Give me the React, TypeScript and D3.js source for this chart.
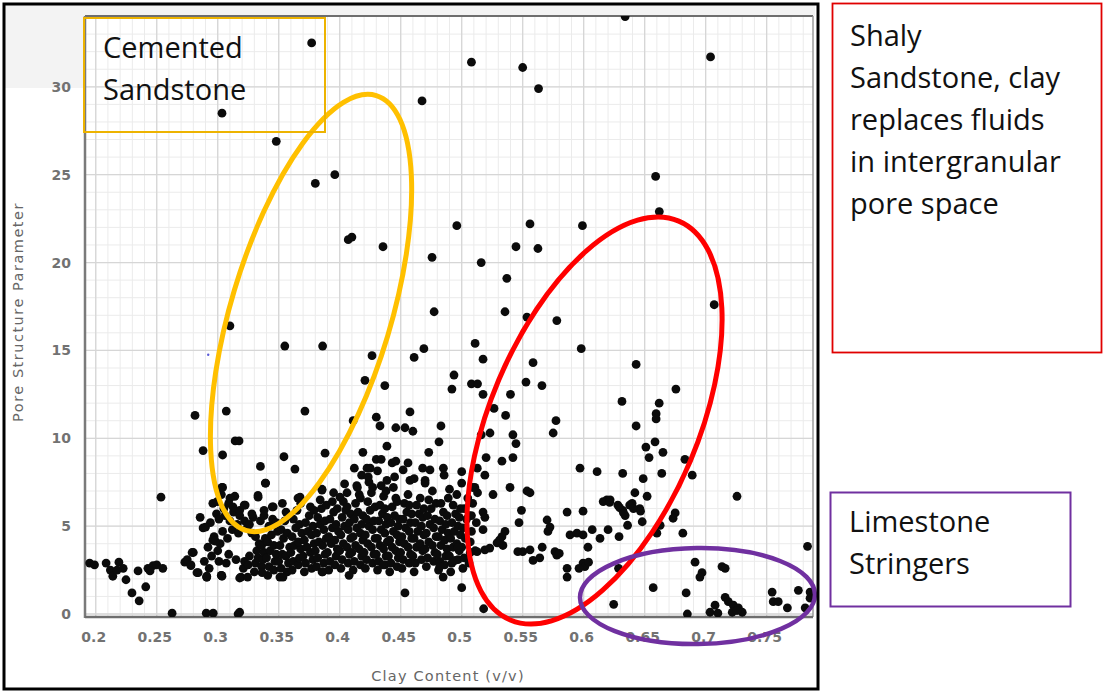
import React from "react";
import * as d3 from "d3";

// Tick values and labels
const xTicks = [0.2, 0.25, 0.3, 0.35, 0.4, 0.45, 0.5, 0.55, 0.6, 0.65, 0.7, 0.75];
const xTickLabels = ["0.2", "0.25", "0.3", "0.35", "0.4", "0.45", "0.5", "0.55", "0.6", "0.65", "0.7", "0.75"];
const yTicks = [0, 5, 10, 15, 20, 25, 30];
const yTickLabels = ["0", "5", "10", "15", "20", "25", "30"];

// [clay content (v/v), pore structure parameter]
const sparseUpper: [number, number][] = [
  [0.377, 32.5], [0.3035, 28.5], [0.348, 26.9], [0.38, 24.5], [0.396, 25.0], [0.407, 21.3], [0.41, 21.45], [0.4355, 20.9],
  [0.508, 31.4], [0.55, 31.1], [0.563, 29.9], [0.4675, 29.2], [0.634, 34.0], [0.704, 31.7], [0.659, 24.9], [0.662, 22.9],
  [0.496, 22.1], [0.556, 22.2], [0.599, 22.1], [0.5445, 20.9], [0.5625, 20.8],
  [0.4757, 20.3], [0.516, 20.0], [0.537, 19.1], [0.4774, 17.2], [0.5355, 17.2], [0.5535, 16.9], [0.578, 16.7],
  [0.598, 15.1], [0.707, 17.6], [0.469, 15.1], [0.461, 14.6], [0.511, 15.4], [0.5175, 14.5], [0.5585, 14.3],
  [0.643, 14.2], [0.4937, 13.6], [0.492, 12.8], [0.508, 13.1], [0.513, 13.1], [0.5527, 13.2], [0.5658, 13.0],
  [0.6756, 12.8], [0.5175, 12.5], [0.54, 12.5], [0.6314, 12.1], [0.6619, 12.0], [0.6594, 11.4], [0.6594, 11.1],
  [0.5265, 11.7], [0.536, 11.3], [0.5773, 11.0], [0.575, 10.3], [0.643, 10.7], [0.4576, 11.5], [0.4535, 10.6],
  [0.46, 10.4], [0.483, 10.7], [0.4814, 9.8], [0.473, 9.2], [0.516, 10.2], [0.5232, 10.3], [0.542, 10.2],
  [0.5445, 9.7], [0.651, 9.5], [0.6585, 9.8], [0.665, 9.2], [0.6536, 8.9], [0.683, 8.8], [0.52, 8.9], [0.542, 8.9],
  [0.533, 8.7],
  [0.31, 16.4], [0.355, 15.25], [0.386, 15.25], [0.4265, 14.7], [0.4207, 13.3], [0.437, 13.0], [0.2814, 11.3],
  [0.307, 11.55], [0.3715, 11.55], [0.411, 11.0], [0.43, 11.2], [0.433, 10.7], [0.446, 10.6], [0.3143, 9.85],
  [0.3175, 9.85], [0.288, 9.3], [0.304, 9.05], [0.3543, 8.95], [0.388, 9.15], [0.419, 9.2], [0.4387, 9.55],
  [0.434, 8.8], [0.446, 8.7],
];

const midScatter: [number, number][] = [
  [0.335, 8.4], [0.3633, 8.25], [0.339, 7.45], [0.4224, 8.3], [0.431, 8.15], [0.304, 7.2], [0.2535, 6.65],
  [0.3331, 6.65], [0.3675, 6.65], [0.3855, 7.1], [0.4003, 6.65],
  [0.597, 8.3], [0.611, 8.1], [0.632, 8.0], [0.6488, 7.7], [0.664, 8.0], [0.689, 7.9], [0.5396, 7.2],
  [0.5535, 7.0], [0.556, 6.9], [0.519, 7.9], [0.5, 8.1], [0.485, 8.3], [0.468, 8.3], [0.456, 8.6], [0.4576, 7.6],
  [0.47, 7.6], [0.49, 7.1], [0.7257, 6.7], [0.642, 6.9], [0.652, 6.7], [0.619, 6.5],
  [0.5128, 8.3], [0.5108, 7.2], [0.5257, 6.8], [0.4856, 7.9], [0.5, 7.45], [0.509, 7.2], [0.47, 7.45],
  [0.4145, 7.2], [0.4387, 7.6], [0.4234, 7.8], [0.412, 8.3], [0.425, 8.3], [0.443, 8.6], [0.452, 8.2],
  [0.461, 7.7], [0.474, 8.2], [0.43, 8.8],
];

const mainCluster: [number, number][] = [
  [0.291, 2.1], [0.293, 2.6], [0.289, 3.0], [0.295, 3.3], [0.292, 3.8], [0.297, 4.4], [0.294, 5.2], [0.299, 5.7],
  [0.296, 6.3], [0.301, 3.0], [0.303, 2.2], [0.3, 3.6], [0.302, 4.0], [0.304, 4.7], [0.301, 5.4], [0.305, 6.0], [0.303, 6.8],
  [0.307, 2.9], [0.309, 3.4], [0.308, 4.3], [0.312, 4.8], [0.31, 5.3], [0.313, 5.8], [0.309, 6.3], [0.314, 6.7],
  [0.315, 3.1], [0.317, 4.6], [0.316, 5.1], [0.318, 5.6], [0.306, 5.6], [0.318, 5.9],
  [0.319, 2.1], [0.321, 2.6], [0.322, 3.0], [0.324, 4.9], [0.322, 5.3], [0.325, 2.8], [0.326, 3.3],
  [0.328, 4.6], [0.326, 5.1], [0.329, 5.5], [0.328, 5.7],
  [0.33, 2.4], [0.331, 2.9], [0.333, 3.2], [0.332, 3.6], [0.334, 4.0], [0.331, 4.4], [0.335, 5.3], [0.336, 2.7],
  [0.337, 3.1], [0.338, 3.5], [0.336, 3.9], [0.339, 4.3], [0.338, 5.6], [0.338, 5.9],
  [0.341, 2.2], [0.342, 2.7], [0.34, 3.2], [0.343, 3.6], [0.341, 4.1], [0.344, 4.5], [0.342, 5.0], [0.345, 5.4],
  [0.346, 2.5], [0.347, 3.0], [0.348, 3.4], [0.346, 3.9], [0.349, 4.7], [0.348, 5.2],
  [0.351, 2.1], [0.352, 2.6], [0.35, 3.0], [0.353, 3.4], [0.351, 3.9], [0.354, 4.3], [0.352, 4.8], [0.355, 5.3],
  [0.356, 5.8], [0.357, 2.4], [0.358, 2.9], [0.356, 3.3], [0.359, 3.8], [0.357, 4.6], [0.353, 6.3],
  [0.361, 2.5], [0.362, 3.0], [0.36, 3.5], [0.363, 3.9], [0.361, 4.4], [0.364, 4.9], [0.362, 5.4], [0.365, 5.9],
  [0.366, 2.8], [0.367, 3.2], [0.368, 3.7], [0.366, 4.1], [0.369, 4.6], [0.367, 5.1], [0.368, 6.3],
  [0.371, 2.4], [0.372, 2.9], [0.37, 3.3], [0.373, 3.8], [0.371, 4.2], [0.374, 4.7], [0.372, 5.2], [0.375, 5.6],
  [0.376, 6.1], [0.377, 2.6], [0.378, 3.1], [0.376, 3.5], [0.379, 4.0], [0.377, 4.5], [0.378, 5.0], [0.379, 5.9],
  [0.381, 2.7], [0.382, 3.2], [0.38, 3.6], [0.383, 4.1], [0.381, 4.6], [0.384, 5.1], [0.382, 5.5], [0.385, 6.0],
  [0.384, 6.5], [0.386, 2.4], [0.387, 2.9], [0.388, 3.4], [0.386, 3.9], [0.389, 4.3], [0.387, 4.8], [0.388, 5.3], [0.389, 6.2],
  [0.391, 2.5], [0.392, 3.0], [0.39, 3.5], [0.393, 4.0], [0.391, 4.4], [0.394, 4.9], [0.392, 5.4], [0.395, 5.8],
  [0.394, 6.4], [0.396, 2.8], [0.397, 3.3], [0.398, 3.7], [0.396, 4.2], [0.399, 4.7], [0.397, 5.1], [0.398, 6.0], [0.395, 6.9],
  [0.401, 2.6], [0.402, 3.1], [0.4, 3.6], [0.403, 4.0], [0.401, 4.5], [0.404, 5.0], [0.402, 5.5], [0.405, 5.9],
  [0.403, 6.4], [0.406, 6.9], [0.404, 7.4], [0.407, 2.9], [0.408, 3.4], [0.406, 3.8], [0.409, 4.3], [0.407, 4.8],
  [0.408, 5.2], [0.409, 5.7], [0.406, 6.1],
  [0.411, 2.5], [0.412, 3.0], [0.41, 3.5], [0.413, 3.9], [0.411, 4.4], [0.414, 4.9], [0.412, 5.4], [0.415, 5.8],
  [0.413, 6.3], [0.416, 6.8], [0.414, 7.3], [0.417, 2.8], [0.418, 3.3], [0.416, 3.7], [0.419, 4.2], [0.417, 4.6],
  [0.418, 5.1], [0.419, 5.6], [0.417, 6.6], [0.418, 7.9],
  [0.421, 2.6], [0.422, 3.1], [0.42, 3.5], [0.423, 4.0], [0.421, 4.5], [0.424, 5.0], [0.422, 5.4], [0.425, 5.9],
  [0.423, 6.4], [0.426, 6.9], [0.424, 7.5], [0.427, 2.9], [0.428, 3.4], [0.426, 3.8], [0.429, 4.3], [0.427, 4.8],
  [0.428, 5.3], [0.429, 6.1], [0.427, 7.2],
  [0.431, 2.5], [0.432, 3.0], [0.43, 3.4], [0.433, 3.9], [0.431, 4.3], [0.434, 4.8], [0.432, 5.3], [0.435, 5.7],
  [0.433, 6.2], [0.436, 6.7], [0.434, 7.3], [0.437, 2.8], [0.438, 3.3], [0.436, 3.7], [0.439, 4.1], [0.437, 4.6],
  [0.438, 5.1], [0.439, 5.5], [0.437, 6.0], [0.438, 7.0],
  [0.441, 2.4], [0.442, 2.9], [0.44, 3.3], [0.443, 3.8], [0.441, 4.2], [0.444, 4.7], [0.442, 5.2], [0.445, 5.6],
  [0.443, 6.1], [0.446, 6.6], [0.444, 7.2], [0.447, 2.7], [0.448, 3.2], [0.446, 3.6], [0.449, 4.1], [0.447, 4.5],
  [0.448, 5.0], [0.449, 5.4], [0.447, 6.4], [0.445, 7.8],
  [0.451, 2.6], [0.452, 3.1], [0.45, 3.5], [0.453, 4.0], [0.451, 4.4], [0.454, 4.9], [0.452, 5.4], [0.455, 5.8],
  [0.453, 6.3], [0.456, 6.8], [0.457, 2.9], [0.458, 3.4], [0.456, 3.8], [0.459, 4.3], [0.457, 4.7], [0.458, 5.2],
  [0.459, 5.7], [0.457, 6.2],
  [0.461, 2.4], [0.462, 2.9], [0.46, 3.3], [0.463, 3.8], [0.461, 4.3], [0.464, 4.7], [0.462, 5.2], [0.465, 5.7],
  [0.463, 6.2], [0.466, 6.6], [0.467, 3.1], [0.468, 3.6], [0.466, 4.0], [0.469, 4.5], [0.467, 5.0], [0.468, 5.5], [0.469, 6.0],
  [0.471, 2.7], [0.472, 3.2], [0.47, 3.7], [0.473, 4.1], [0.471, 4.6], [0.474, 5.1], [0.472, 5.6], [0.475, 6.0],
  [0.473, 6.5], [0.476, 7.0], [0.477, 3.0], [0.478, 3.5], [0.476, 3.9], [0.479, 4.4], [0.477, 4.9], [0.478, 5.4], [0.479, 6.3],
  [0.481, 2.5], [0.482, 3.0], [0.48, 3.4], [0.483, 3.9], [0.481, 4.4], [0.484, 4.8], [0.482, 5.3], [0.485, 5.8],
  [0.483, 6.3], [0.486, 2.8], [0.487, 3.3], [0.488, 3.7], [0.486, 4.2], [0.489, 4.6], [0.487, 5.1], [0.488, 5.6], [0.489, 6.6],
  [0.491, 2.4], [0.492, 2.9], [0.49, 3.3], [0.493, 3.8], [0.491, 4.3], [0.494, 4.7], [0.492, 5.2], [0.495, 5.7],
  [0.493, 6.2], [0.496, 6.8], [0.497, 3.1], [0.498, 3.6], [0.496, 4.0], [0.499, 4.5], [0.497, 5.0], [0.498, 5.5], [0.499, 6.0],
  [0.501, 2.6], [0.502, 3.2], [0.5, 3.8], [0.503, 4.3], [0.501, 4.9], [0.504, 5.4], [0.502, 6.0], [0.505, 6.6],
  [0.506, 2.9], [0.507, 4.1], [0.508, 4.7], [0.506, 5.6], [0.509, 6.3], [0.511, 3.6], [0.512, 5.2], [0.513, 6.9],
];

const rightScatter: [number, number][] = [
  [0.616, 6.4], [0.6217, 6.5], [0.628, 6.2], [0.632, 5.9], [0.634, 5.6], [0.6397, 6.3], [0.646, 6.0], [0.636, 5.05],
  [0.648, 5.25], [0.6213, 6.35], [0.6295, 6.05], [0.6327, 5.75], [0.6377, 6.2], [0.6408, 6.0], [0.6466, 5.85],
  [0.5864, 5.8], [0.5995, 5.85], [0.549, 5.9], [0.547, 5.2], [0.5175, 5.8], [0.519, 5.5], [0.5175, 4.8], [0.508, 5.6],
  [0.57, 5.35], [0.5724, 4.95], [0.5707, 4.7], [0.5888, 4.5], [0.5945, 4.6], [0.5995, 4.5], [0.607, 4.8], [0.62, 4.8],
  [0.6134, 4.3], [0.629, 4.4], [0.6035, 3.8], [0.5355, 4.7], [0.533, 4.4], [0.529, 4.05], [0.523, 3.75], [0.519, 3.65],
  [0.5126, 3.55], [0.507, 3.5], [0.546, 3.55], [0.55, 3.55], [0.556, 3.65], [0.5585, 3.05], [0.566, 3.8], [0.564, 3.2],
  [0.5765, 3.55], [0.578, 3.35], [0.58, 3.45], [0.5995, 2.9], [0.601, 2.7], [0.604, 2.95], [0.5864, 2.6], [0.5864, 2.1],
  [0.5962, 2.6], [0.518, 0.3], [0.6246, 0.55],
  [0.5338, 3.9], [0.531, 4.2], [0.497, 3.8], [0.4946, 3.05], [0.4848, 2.1], [0.482, 2.7], [0.4535, 1.2], [0.5, 1.5],
  [0.6286, 2.6], [0.675, 5.75], [0.6733, 5.45], [0.66, 4.6], [0.6813, 4.6], [0.6627, 5.05], [0.7835, 3.85],
];

const lowScatter: [number, number][] = [
  [0.195, 2.9], [0.199, 2.8], [0.2085, 2.9], [0.212, 2.5], [0.214, 2.15], [0.219, 2.95], [0.2225, 2.6], [0.2175, 2.5],
  [0.2248, 1.95], [0.2297, 1.2], [0.2356, 0.75], [0.2347, 2.45], [0.241, 1.55], [0.2428, 2.6], [0.247, 2.75],
  [0.25, 2.8], [0.255, 2.6], [0.2445, 2.45],
  [0.273, 2.95], [0.28, 3.5], [0.278, 2.75], [0.283, 2.35], [0.291, 2.1], [0.3035, 2.15], [0.318, 2.05], [0.3245, 2.1],
  [0.3364, 2.35], [0.3535, 2.1], [0.3855, 2.4], [0.4077, 2.2], [0.4355, 2.8], [0.2856, 5.5], [0.288, 4.9], [0.296, 4.2],
  [0.2995, 6.4], [0.3035, 7.2], [0.31, 6.6], [0.3125, 6.1], [0.3225, 6.2], [0.333, 6.75], [0.3393, 7.45], [0.3455, 6.1],
  [0.3658, 6.6], [0.3855, 7.05], [0.3447, 6.1], [0.3217, 6.2], [0.29, 4.95], [0.298, 4.15], [0.279, 3.5], [0.275, 3.1],
  [0.278, 2.8], [0.284, 2.35], [0.291, 2.15], [0.303, 2.2],
  [0.2626, 0.05], [0.2906, 0.05], [0.2963, 0.05], [0.3167, 0.0], [0.318, 0.1],
  [0.657, 1.5], [0.684, 1.2], [0.6913, 2.95], [0.697, 2.35], [0.6953, 2.1], [0.7134, 2.7], [0.716, 2.6], [0.685, 0.0],
  [0.7077, 0.5], [0.716, 0.95], [0.7186, 0.7], [0.7227, 0.5], [0.7268, 0.35], [0.73, 0.1], [0.7036, 0.1], [0.71, 0.05],
  [0.7218, 0.1], [0.7257, 0.2], [0.7545, 1.25], [0.7554, 0.7], [0.7595, 0.7], [0.767, 0.35], [0.776, 1.35],
  [0.7856, 0.9], [0.7816, 0.35], [0.7856, 1.25],
];

// Single highlighted sample
const markerPoint: [number, number] = [0.2922, 14.75];

// Region outlines: centre in data units, radii in px, tilt in degrees
const regions = [
  { name: "cemented", cx: 0.3765, cy: 17.13, rx: 80, ry: 227, tilt: 16.7, color: "#FFC000", width: 5 },
  { name: "shaly", cx: 0.6089, cy: 11.01, rx: 104, ry: 216.5, tilt: 22.9, color: "#FF0000", width: 5 },
  { name: "limestone", cx: 0.6933, cy: 1.02, rx: 117.5, ry: 48, tilt: -0.8, color: "#7030A0", width: 4.5 },
];

const cementedLines = ["Cemented", "Sandstone"];
const shalyLines = ["Shaly", "Sandstone, clay", "replaces fluids", "in intergranular", "pore space"];
const limestoneLines = ["Limestone", "Stringers"];

const W = 1103;
const H = 691;
const plot = { left: 85, right: 813, top: 16, bottom: 617 };

export default function App() {
  const x = d3.scaleLinear().domain([0.1912, 0.788]).range([plot.left, plot.right]);
  const y = d3.scaleLinear().domain([-0.17, 34.03]).range([plot.bottom, plot.top]);

  const minorX = d3.range(0.2, 0.785, 0.01);
  const minorY = d3.range(0, 34.5, 1);
  const allPoints = [...mainCluster, ...lowScatter, ...midScatter, ...rightScatter, ...sparseUpper];

  const tickFont = "'DejaVu Sans', Verdana, sans-serif";
  const noteFont = "'Open Sans', 'Noto Sans', sans-serif";

  return (
    <svg
      width={W}
      height={H}
      viewBox={`0 0 ${W} ${H}`}
      style={{ position: "absolute", left: 0, top: 0, background: "#fff" }}
    >
      <defs>
        <clipPath id="plot-clip">
          <rect x={plot.left} y={plot.top} width={plot.right - plot.left} height={plot.bottom - plot.top} />
        </clipPath>
      </defs>

      <rect x={0} y={0} width={W} height={H} fill="#fff" />
      {/* light header band of the chart frame */}
      <rect x={5} y={5} width={810} height={11} fill="#f3f3f3" />
      <rect x={5} y={5} width={80} height={83} fill="#f3f3f3" />

      {/* minor grid */}
      <g stroke="#ebebeb" strokeWidth={1}>
        {minorX.map((v, i) => (
          <line key={`mx${i}`} x1={x(v)} x2={x(v)} y1={plot.top} y2={plot.bottom} />
        ))}
        {minorY.map((v, i) => (
          <line key={`my${i}`} x1={plot.left} x2={plot.right} y1={y(v)} y2={y(v)} />
        ))}
      </g>
      {/* major grid */}
      <g stroke="#d6d6d6" strokeWidth={1.3}>
        {xTicks.map((v) => (
          <line key={`gx${v}`} x1={x(v)} x2={x(v)} y1={plot.top} y2={plot.bottom} />
        ))}
        {yTicks.map((v) => (
          <line key={`gy${v}`} x1={plot.left} x2={plot.right} y1={y(v)} y2={y(v)} />
        ))}
      </g>

      {/* plot frame */}
      <line x1={plot.left} x2={plot.right} y1={plot.top} y2={plot.top} stroke="#6e6e6e" strokeWidth={2} />
      <line x1={plot.right} x2={plot.right} y1={plot.top} y2={plot.bottom} stroke="#9a9a9a" strokeWidth={1.5} />
      <line x1={plot.left} x2={plot.left} y1={plot.top} y2={plot.bottom + 1} stroke="#7a7a7a" strokeWidth={2.5} />
      <line x1={plot.left} x2={plot.right} y1={plot.bottom} y2={plot.bottom} stroke="#6e6e6e" strokeWidth={2.5} />

      {/* data points */}
      <g clipPath="url(#plot-clip)" fill="#0b0b0b">
        {allPoints.map((d, i) => (
          <circle key={i} cx={x(d[0])} cy={y(d[1])} r={4.4} />
        ))}
        <circle cx={x(markerPoint[0])} cy={y(markerPoint[1])} r={1.2} fill="#5a5ad8" />
      </g>

      {/* tick labels */}
      <g fontFamily={tickFont} fontSize={14} fill="#727272" fontWeight="bold">
        {xTicks.map((v, i) => (
          <text key={`tx${v}`} x={x(v) - 2} y={642} textAnchor="middle">
            {xTickLabels[i]}
          </text>
        ))}
        {yTicks.map((v, i) => (
          <text key={`ty${v}`} x={71} y={y(v) + 5} textAnchor="end">
            {yTickLabels[i]}
          </text>
        ))}
      </g>

      {/* axis titles */}
      <text
        x={448}
        y={681}
        textAnchor="middle"
        fontFamily={tickFont}
        fontSize={14.5}
        letterSpacing={1.2}
        fill="#666"
      >
        Clay Content (v/v)
      </text>
      <text
        transform="translate(23,312) rotate(-90)"
        textAnchor="middle"
        fontFamily={tickFont}
        fontSize={14.5}
        letterSpacing={1.5}
        fill="#666"
      >
        Pore Structure Parameter
      </text>

      {/* region outlines */}
      {regions.map((r) => (
        <ellipse
          key={r.name}
          cx={0}
          cy={0}
          rx={r.rx}
          ry={r.ry}
          transform={`translate(${x(r.cx)},${y(r.cy)}) rotate(${r.tilt})`}
          fill="none"
          stroke={r.color}
          strokeWidth={r.width}
        />
      ))}

      {/* outer frame */}
      <rect x={4} y={4} width={814} height={685} fill="none" stroke="#000" strokeWidth={3} />

      {/* annotation boxes */}
      <rect x={84} y={18} width={241} height={114} fill="none" stroke="#EDB300" strokeWidth={2} />
      <g fontFamily={noteFont} fontSize={29} fill="#111">
        {cementedLines.map((t, i) => (
          <text key={t} x={103} y={58 + i * 42}>
            {t}
          </text>
        ))}
      </g>

      <rect x={832.5} y={3.5} width={269} height={349} fill="none" stroke="#E00000" strokeWidth={1.8} />
      <g fontFamily={noteFont} fontSize={29} fill="#111">
        {shalyLines.map((t, i) => (
          <text key={t} x={850} y={46 + i * 42}>
            {t}
          </text>
        ))}
      </g>

      <rect x={830.5} y={492.5} width={240} height={114} fill="none" stroke="#7030A0" strokeWidth={2} />
      <g fontFamily={noteFont} fontSize={29} fill="#111">
        {limestoneLines.map((t, i) => (
          <text key={t} x={849} y={532 + i * 42}>
            {t}
          </text>
        ))}
      </g>
    </svg>
  );
}
